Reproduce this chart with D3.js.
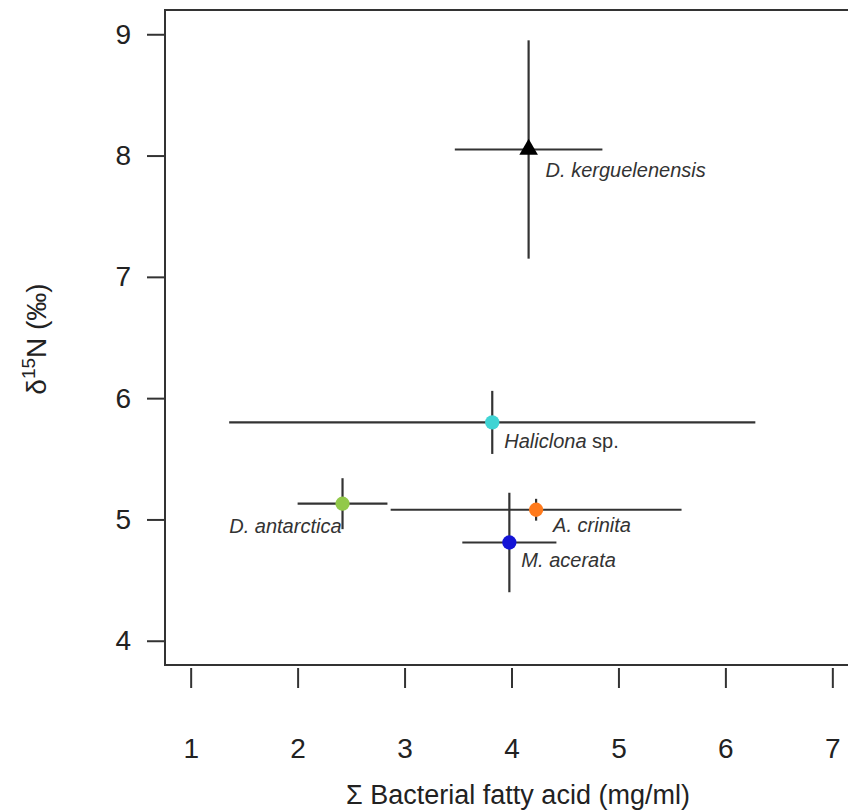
<!DOCTYPE html>
<html>
<head>
<meta charset="utf-8">
<script src="https://cdn.jsdelivr.net/npm/d3@7"></script>
<style>
  body { margin: 0; background: #fff; }
  svg { display: block; font-family: 'Liberation Sans', Arial, sans-serif; }
</style>
</head>
<body>
<script>
// species means and sd
const species = ['D. kerguelenensis', 'Haliclona sp.', 'D. antarctica', 'A. crinita', 'M. acerata']
const bacterialFA = [4.16, 3.82, 2.42, 4.23, 3.98]
const bacterialFASd = [0.69, 2.46, 0.42, 1.36, 0.44]
const d15N = [8.05, 5.80, 5.13, 5.08, 4.81]
const d15NSd = [0.90, 0.26, 0.21, 0.09, 0.41]

const xTicks = [1, 2, 3, 4, 5, 6, 7]
const yTicks = [4, 5, 6, 7, 8, 9]

const colours = ['#000000', '#40d4d4', '#92c94a', '#ff7a1c', '#1414d6']

const width = 848
const height = 810
const margin = { left: 165, top: 10, right: -10, bottom: 145 }

const x = d3.scaleLinear()
  .domain([0.76, 7.24])
  .range([margin.left, width - margin.right])
const y = d3.scaleLinear()
  .domain([3.8, 9.2])
  .range([height - margin.bottom, margin.top])

const svg = d3.select('body').append('svg')
  .attr('width', width)
  .attr('height', height)

const ink = '#333'

// plot box
svg.append('rect')
  .attr('x', x.range()[0])
  .attr('y', y.range()[1])
  .attr('width', x.range()[1] - x.range()[0])
  .attr('height', y.range()[0] - y.range()[1])
  .attr('fill', 'none')
  .attr('stroke', ink)
  .attr('stroke-width', 2)

// x axis
const xAxis = svg.append('g')
  .attr('transform', `translate(0,${y.range()[0] + 3})`)
  .call(d3.axisBottom(x).tickValues(xTicks).tickSize(20).tickPadding(50).tickFormat(d3.format('d')))
xAxis.select('.domain').remove()
xAxis.selectAll('line').attr('stroke', ink).attr('stroke-width', 2)
xAxis.selectAll('text').attr('font-size', 28).attr('fill', '#222')

// y axis
const yAxis = svg.append('g')
  .attr('transform', `translate(${x.range()[0]},0)`)
  .call(d3.axisLeft(y).tickValues(yTicks).tickSize(18).tickPadding(16).tickFormat(d3.format('d')))
yAxis.select('.domain').remove()
yAxis.selectAll('line').attr('stroke', ink).attr('stroke-width', 2)
yAxis.selectAll('text').attr('font-size', 28).attr('fill', '#222')

// axis titles
svg.append('text')
  .attr('x', 518)
  .attr('y', 804)
  .attr('text-anchor', 'middle')
  .attr('font-size', 27)
  .attr('fill', '#222')
  .text('\u03A3 Bacterial fatty acid (mg/ml)')

const yTitle = svg.append('text')
  .attr('transform', 'translate(46,339) rotate(-90)')
  .attr('text-anchor', 'middle')
  .attr('font-size', 28)
  .attr('fill', '#222')
yTitle.append('tspan').text('\u03B4')
yTitle.append('tspan').attr('font-size', 19).attr('dy', -11).text('15')
yTitle.append('tspan').attr('dy', 11).text('N (\u2030)')

const data = species.map((s, i) => ({
  name: s,
  x: bacterialFA[i],
  xsd: bacterialFASd[i],
  y: d15N[i],
  ysd: d15NSd[i],
  colour: colours[i]
}))

// error bars
const bars = svg.append('g')
  .attr('stroke', ink)
  .attr('stroke-width', 2.2)
bars.selectAll('line.h')
  .data(data)
  .join('line')
  .attr('class', 'h')
  .attr('x1', d => x(d.x - d.xsd))
  .attr('x2', d => x(d.x + d.xsd))
  .attr('y1', d => y(d.y))
  .attr('y2', d => y(d.y))
bars.selectAll('line.v')
  .data(data)
  .join('line')
  .attr('class', 'v')
  .attr('x1', d => x(d.x))
  .attr('x2', d => x(d.x))
  .attr('y1', d => y(d.y - d.ysd))
  .attr('y2', d => y(d.y + d.ysd))

// points: first species is drawn as a triangle, the rest as circles
svg.append('g')
  .selectAll('path')
  .data(data)
  .join('path')
  .attr('transform', d => `translate(${x(d.x)},${y(d.y)})`)
  .attr('d', (d, i) => d3.symbol().type(i === 0 ? d3.symbolTriangle : d3.symbolCircle).size(i === 0 ? 150 : 160)())
  .attr('fill', d => d.colour)

// species labels, placed next to each point
const labelOffset = {
  'D. kerguelenensis': [17, 28, 'start'],
  'Haliclona sp.': [12, 26, 'start'],
  'D. antarctica': [-1, 29, 'end'],
  'A. crinita': [17, 22, 'start'],
  'M. acerata': [12, 25, 'start']
}
const labels = svg.append('g')
  .attr('font-size', 20)
  .attr('fill', '#333')
data.forEach(d => {
  const [dx, dy, anchor] = labelOffset[d.name]
  const t = labels.append('text')
    .attr('x', x(d.x) + dx)
    .attr('y', y(d.y) + dy)
    .attr('text-anchor', anchor)
  const parts = d.name.split(' ')
  if (parts[1] === 'sp.') {
    t.append('tspan').attr('font-style', 'italic').text(parts[0])
    t.append('tspan').text(' sp.')
  } else {
    t.attr('font-style', 'italic').text(d.name)
  }
})
</script>
</body>
</html>
